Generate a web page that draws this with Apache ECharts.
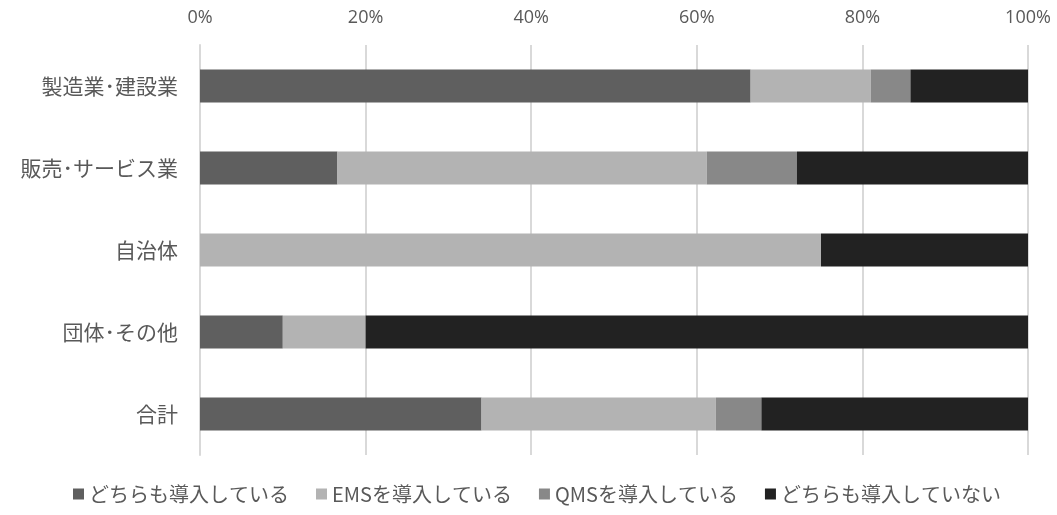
<!DOCTYPE html>
<html><head><meta charset="utf-8">
<script src="https://cdn.jsdelivr.net/npm/echarts@6/dist/echarts.min.js"></script>
<style>html,body{margin:0;padding:0;background:#fff}#c{width:1057px;height:515px}</style>
</head><body><div id="c"></div>
<script>
const categories = ['製造業･建設業','販売･サービス業','自治体','団体･その他','合計'];
const seriesNames = ['どちらも導入している','EMSを導入している','QMSを導入している','どちらも導入していない'];
const bothVals = [66.5, 16.6, 0, 10, 34.0];
const emsVals = [14.5, 44.6, 75, 10, 28.3];
const qmsVals = [4.8, 10.9, 0, 0, 5.5];
const noneVals = [14.2, 27.9, 25, 80, 32.2];
const tickLabels = ['0%','20%','40%','60%','80%','100%'];
const colors = ['#5f5f5f','#b3b3b3','#888888','#222222'];
const font = '"Noto Sans CJK JP","Open Sans",sans-serif';
const vals = [bothVals, emsVals, qmsVals, noneVals];
const chart = echarts.init(document.getElementById('c'));
chart.setOption({
  animation:false,
  textStyle:{fontFamily:font},
  grid:{left:200,right:29,top:45,bottom:60},
  legend:{bottom:6,left:68,itemWidth:11,itemHeight:11,itemGap:27,icon:'rect',
    textStyle:{fontSize:20,color:'#595959',fontFamily:font},data:seriesNames},
  xAxis:{type:'value',position:'top',min:0,max:100,interval:20,
    axisLine:{show:false},axisTick:{show:false},
    splitLine:{lineStyle:{color:'#d9d9d9',width:2}},
    axisLabel:{fontSize:18,color:'#595959',margin:18,fontFamily:'"Open Sans",sans-serif',
      formatter:(v)=>tickLabels[Math.round(v/20)]}},
  yAxis:{type:'category',inverse:true,data:categories,
    axisLine:{lineStyle:{color:'#d9d9d9',width:2}},axisTick:{show:false},
    axisLabel:{fontSize:21,color:'#595959',margin:22}},
  series: seriesNames.map((n,i)=>({name:n,type:'bar',stack:'s',barWidth:33,
    itemStyle:{color:colors[i]},data:vals[i]}))
});
</script></body></html>
